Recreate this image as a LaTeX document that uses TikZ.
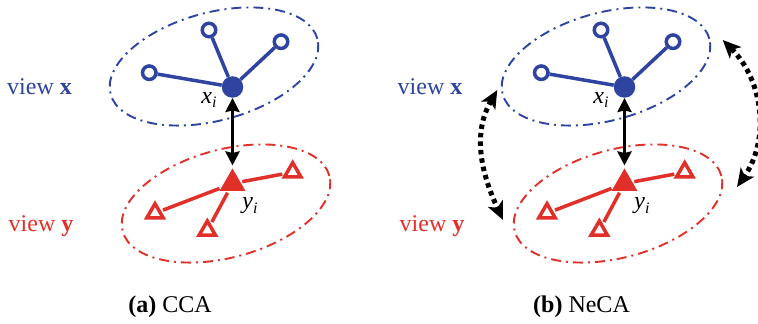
\documentclass[tikz,border=0pt]{standalone}
\usepackage{fontspec}
\setmainfont{Liberation Serif}
\usetikzlibrary{shapes.geometric,arrows.meta}
\definecolor{vblue}{RGB}{46,68,160}
\definecolor{vred}{RGB}{225,48,42}
\newcommand{\sublab}[2]{\textit{#1}\raisebox{-0.45ex}{\fontsize{16}{16}\selectfont\textit{#2}}}
\tikzset{
  viewell/.style={line width=1.9pt, dash pattern=on 10pt off 5pt on 2pt off 5pt},
  opencirc/.style={circle, draw=vblue, fill=white, line width=3.5pt, minimum size=13.5pt, inner sep=0pt},
  fullcirc/.style={circle, fill=vblue, minimum size=21.5pt, inner sep=0pt},
  opentri/.style={regular polygon, regular polygon sides=3, draw=vred, fill=white, line width=3.5pt, minimum size=19pt, inner sep=0pt},
  fulltri/.style={regular polygon, regular polygon sides=3, draw=vred, fill=vred, line width=1pt, minimum size=28pt, inner sep=0pt},
  blueedge/.style={vblue, line width=3.5pt},
  rededge/.style={vred, line width=3.5pt, shorten <=2pt, shorten >=2pt},
  pairarrow/.style={black, line width=3.5pt, shorten >=3pt,
    {Stealth[length=14pt,width=14pt,inset=1.5pt]}-{Stealth[length=14pt,width=14pt,inset=1.5pt]}},
  neigharrow/.style={black, line width=5pt, dash pattern=on 4.5pt off 4pt,
    {Stealth[length=18pt,width=16pt,inset=4.5pt]}-{Stealth[length=18pt,width=16pt,inset=4.5pt]}},
  lab/.style={font=\fontsize{24}{28}\selectfont, inner sep=0pt},
}
\newcommand{\drawpanel}[2]{%
\begin{scope}[xshift=#1]
  \draw[viewell, vblue, rotate around={15:(214,257.5)}] (214,257.5) ellipse [x radius=107, y radius=54];
  \draw[viewell, vred, rotate around={15:(226,120.5)}] (226,120.5) ellipse [x radius=107, y radius=54];
  \node[fullcirc] (#2xc) at (232.5,237) {};
  \node[opencirc] (#2o1) at (149.3,251.3) {};
  \node[opencirc] (#2o2) at (209,294) {};
  \node[opencirc] (#2o3) at (281,282.3) {};
  \draw[blueedge] (#2xc) -- (#2o1);
  \draw[blueedge] (#2xc) -- (#2o2);
  \draw[blueedge] (#2xc) -- (#2o3);
  \node[fulltri] (#2yc) at (232.5,140.5) {};
  \node[opentri] (#2t1) at (292.7,151.8) {};
  \node[opentri] (#2t2) at (155,110.8) {};
  \node[opentri] (#2t3) at (207.3,93.5) {};
  \draw[rededge] (#2yc) -- (#2t1);
  \draw[rededge] (#2yc) -- (#2t2);
  \draw[rededge] (#2yc) -- (#2t3);
  \node[lab] (#2xl) at (209,224) {\sublab{x}{i}};
  \node[lab] (#2yl) at (250,118) {\sublab{y}{i}};
  \draw[pairarrow] (#2xc) -- (#2yc);
\end{scope}}
\begin{document}
\begin{tikzpicture}[x=1pt,y=1pt]
  \useasboundingbox (0,0) rectangle (758,324);
  \fill[white] (0,0) rectangle (758,324);
  \drawpanel{0pt}{a}
  \drawpanel{392pt}{b}
  \node[lab, text=vblue] (vxa) at (39.5,237) {view \textbf{x}};
  \node[lab, text=vred] (vya) at (41,98) {view \textbf{y}};
  \node[lab, text=vblue] (vxb) at (430,237) {view \textbf{x}};
  \node[lab, text=vred] (vyb) at (432,98) {view \textbf{y}};
  \node[lab] (capa) at (170,17) {\textbf{(a)} CCA};
  \node[lab] (capb) at (581.5,17) {\textbf{(b)} NeCA};
  \coordinate (na1) at (497.3,234);
  \coordinate (na2) at (503,104);
  \coordinate (nb1) at (722.7,284);
  \coordinate (nb2) at (737,137);
  \draw[neigharrow] (na1) to[out=240,in=115] (na2);
  \draw[neigharrow] (nb1) to[out=-45,in=55] (nb2);
\end{tikzpicture}
\end{document}
